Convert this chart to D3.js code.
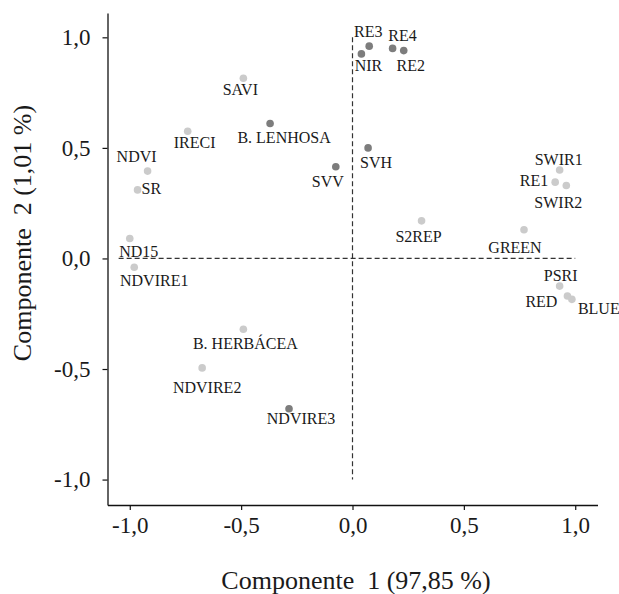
<!DOCTYPE html>
<html>
<head>
<meta charset="utf-8">
<script src="https://cdn.jsdelivr.net/npm/d3@7"></script>
<style>
  body { margin: 0; background: #fff; }
  svg { display: block; }
</style>
</head>
<body>
<script>
var width = 619;
var height = 594;

// loadings on the first two components
var variables = ["SAVI", "B. LENHOSA", "IRECI", "NDVI", "SR", "SVV",
                 "RE3", "NIR", "RE4", "RE2", "SVH",
                 "SWIR1", "RE1", "SWIR2", "S2REP", "GREEN",
                 "PSRI", "RED", "BLUE", "ND15", "NDVIRE1",
                 "B. HERBÁCEA", "NDVIRE2", "NDVIRE3"];
var comp1 = [-0.49, -0.37, -0.74, -0.92, -0.965, -0.075,
             0.075, 0.04, 0.18, 0.23, 0.07,
             0.93, 0.91, 0.96, 0.31, 0.77,
             0.93, 0.965, 0.985, -1.0, -0.98,
             -0.49, -0.675, -0.285];
var comp2 = [0.815, 0.61, 0.575, 0.395, 0.31, 0.415,
             0.96, 0.925, 0.95, 0.94, 0.50,
             0.40, 0.345, 0.33, 0.17, 0.13,
             -0.125, -0.17, -0.185, 0.09, -0.04,
             -0.32, -0.495, -0.68];
// 1 = dark marker, 0 = light marker
var darkGroup = [0, 1, 0, 0, 0, 1,
                 1, 1, 1, 1, 1,
                 0, 0, 0, 0, 0,
                 0, 0, 0, 0, 0,
                 0, 0, 1];
var tickValues = [-1, -0.5, 0, 0.5, 1];

// label placement relative to each marker: [dx, dy, anchor]
var labelPlace = {
  "SAVI": [-3, 17, "middle"],
  "B. LENHOSA": [14, 19, "middle"],
  "IRECI": [7, 17, "middle"],
  "NDVI": [-11, -9, "middle"],
  "SR": [4, 4, "start"],
  "SVV": [-8, 20, "middle"],
  "RE3": [-1, -9, "middle"],
  "NIR": [7, 17, "middle"],
  "RE4": [10, -7, "middle"],
  "RE2": [7, 20, "middle"],
  "SVH": [8, 20, "middle"],
  "SWIR1": [-1, -5, "middle"],
  "RE1": [-7, 4, "end"],
  "SWIR2": [-8, 23, "middle"],
  "S2REP": [-3, 21, "middle"],
  "GREEN": [-9, 23, "middle"],
  "PSRI": [1, -5, "middle"],
  "RED": [-10, 11, "end"],
  "BLUE": [6, 15, "start"],
  "ND15": [9, 18, "middle"],
  "NDVIRE1": [20, 19, "middle"],
  "B. HERBÁCEA": [2, 20, "middle"],
  "NDVIRE2": [5, 25, "middle"],
  "NDVIRE3": [12, 15, "middle"]
};

var points = variables.map(function(name, i) {
  return {name: name, x: comp1[i], y: comp2[i], dark: darkGroup[i]};
});

// decimal comma and a plain hyphen for negatives
var fmt = function(v) { return d3.format(".1f")(v).replace(".", ",").replace("\u2212", "-"); };

var svg = d3.select("body")
            .append("svg")
            .attr("width", width)
            .attr("height", height)
            .style("font-family", "'Liberation Serif', 'Times New Roman', serif");

var x = d3.scaleLinear().domain([-1.1, 1.1]).range([107.5, 597.5]);
var y = d3.scaleLinear().domain([-1.115, 1.11]).range([505, 13]);

// reference lines through the origin
svg.append("line")
   .attr("x1", x(-1.05)).attr("x2", x(1.0))
   .attr("y1", y(0)).attr("y2", y(0))
   .attr("stroke", "#333").attr("stroke-width", 1.2)
   .attr("stroke-dasharray", "5,3");
svg.append("line")
   .attr("x1", x(0)).attr("x2", x(0))
   .attr("y1", y(1.0)).attr("y2", y(-1.0))
   .attr("stroke", "#333").attr("stroke-width", 1.2)
   .attr("stroke-dasharray", "5,3");

var xAxis = svg.append("g")
               .attr("transform", "translate(0," + y.range()[0] + ")")
               .call(d3.axisBottom(x).tickValues(tickValues).tickFormat(fmt)
                       .tickSize(5).tickSizeOuter(0).tickPadding(7));
var yAxis = svg.append("g")
               .attr("transform", "translate(" + x.range()[0] + ",0)")
               .call(d3.axisLeft(y).tickValues(tickValues).tickFormat(fmt)
                       .tickSize(5).tickSizeOuter(0).tickPadding(12));

[xAxis, yAxis].forEach(function(g) {
  g.select(".domain").attr("stroke", "#111").attr("stroke-width", 1.3);
  g.selectAll(".tick line").attr("stroke", "#111").attr("stroke-width", 1.2);
  g.selectAll(".tick text")
   .attr("fill", "#1a1a1a")
   .style("font-family", "'Liberation Serif', 'Times New Roman', serif")
   .style("font-size", "23px");
});

svg.selectAll("circle.pt")
   .data(points)
   .enter()
   .append("circle")
   .attr("class", "pt")
   .attr("cx", d => x(d.x))
   .attr("cy", d => y(d.y))
   .attr("r", 3.8)
   .attr("fill", d => d.dark ? "#7d7d7d" : "#cbcbcb");

svg.selectAll("text.lbl")
   .data(points)
   .enter()
   .append("text")
   .attr("class", "lbl")
   .attr("x", d => x(d.x) + labelPlace[d.name][0])
   .attr("y", d => y(d.y) + labelPlace[d.name][1])
   .attr("text-anchor", d => labelPlace[d.name][2])
   .attr("font-size", "16px")
   .attr("fill", "#1a1a1a")
   .style("white-space", "pre")
   .text(d => d.name);

svg.append("text")
   .attr("x", 356)
   .attr("y", 589)
   .attr("text-anchor", "middle")
   .attr("font-size", "26px")
   .attr("fill", "#1a1a1a")
   .style("white-space", "pre")
   .text("Componente  1 (97,85 %)");

svg.append("text")
   .attr("transform", "translate(31,233) rotate(-90)")
   .attr("text-anchor", "middle")
   .attr("font-size", "26px")
   .attr("fill", "#1a1a1a")
   .style("white-space", "pre")
   .text("Componente  2 (1,01 %)");
</script>
</body>
</html>
